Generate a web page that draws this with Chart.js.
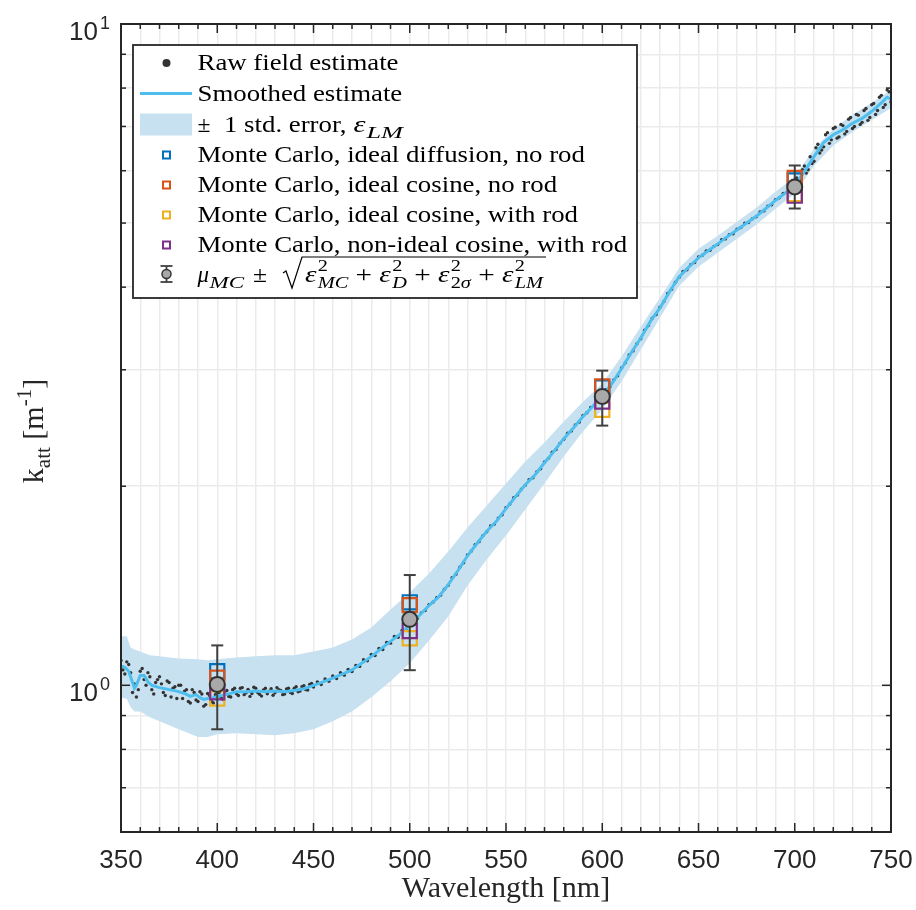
<!DOCTYPE html>
<html><head><meta charset="utf-8">
<script src="https://cdn.jsdelivr.net/npm/chart.js@4.4.0/dist/chart.umd.min.js"></script>
<style>html,body{margin:0;padding:0;background:#fff;}canvas{display:block;}</style>
</head><body>
<canvas id="c" width="916" height="910"></canvas>
<script>
// ---------------- data ----------------
const curveWl = [350,352,354,356,357,358,360,362,364,366,370,375,379,383,386,389,391,393,395,398,400,405,410,415,420,425,430,435,440,445,450,455,460,465,470,475,480,485,490,495,500,505,510,515,520,525,530,535,540,545,550,555,560,565,570,575,580,585,590,595,600,605,610,615,620,625,630,635,640,645,650,655,660,665,670,675,680,685,690,695,700,705,710,715,720,725,730,735,740,745,748,750];
const curveK = [1.07,1.065,1.05,1.01,0.99,1.0,1.035,1.035,1.012,1.0,0.992,0.985,0.98,0.972,0.962,0.968,0.958,0.952,0.955,0.958,0.962,0.969,0.978,0.978,0.98,0.978,0.98,0.978,0.982,0.988,1.0,1.012,1.025,1.04,1.055,1.08,1.105,1.135,1.165,1.195,1.235,1.275,1.32,1.36,1.42,1.49,1.57,1.64,1.71,1.77,1.85,1.93,2.01,2.08,2.17,2.26,2.36,2.45,2.55,2.64,2.74,2.86,3.01,3.18,3.35,3.55,3.72,3.94,4.15,4.29,4.43,4.54,4.65,4.77,4.88,5.0,5.12,5.26,5.41,5.55,5.70,5.98,6.30,6.62,6.80,6.92,7.08,7.20,7.38,7.60,7.75,7.70];

const bandWl = [350,353,355,357,360,365,370,380,390,395,400,410,420,430,440,450,460,470,480,490,500,510,520,530,540,550,560,570,580,590,600,610,620,630,640,650,660,670,680,690,700,710,720,730,740,750];
const bandHigh = [1.186,1.186,1.141,1.133,1.125,1.110,1.106,1.098,1.095,1.091,1.095,1.102,1.106,1.110,1.110,1.125,1.141,1.173,1.223,1.302,1.382,1.476,1.594,1.733,1.870,2.019,2.180,2.328,2.505,2.685,2.859,3.141,3.486,3.856,4.280,4.573,4.783,5.023,5.273,5.576,5.873,6.475,6.940,7.288,7.599,7.949];
const bandLow = [0.959,0.953,0.926,0.913,0.913,0.895,0.882,0.858,0.835,0.835,0.843,0.846,0.843,0.840,0.846,0.858,0.882,0.913,0.959,1.014,1.080,1.169,1.271,1.416,1.550,1.685,1.845,2.019,2.218,2.419,2.612,2.879,3.218,3.596,4.020,4.295,4.510,4.734,4.971,5.254,5.537,6.103,6.543,6.868,7.161,7.466];

// raw field estimate, even wavelengths 350..750
const rawStart = 350, rawStep = 2;
const rawK = [1.09,1.04,1.075,0.975,0.96,1.05,1.02,1.045,0.985,1.01,1.03,0.975,1.015,0.96,0.995,1.0,0.955,0.985,0.94,0.975,0.945,0.97,0.935,0.965,0.94,0.975,
0.958,0.979,0.962,0.985,0.971,0.99,0.968,0.986,0.972,0.99,0.969,0.984,0.971,0.988,0.974,0.985,0.968,0.987,0.975,0.99,0.978,0.995,0.985,1.003,0.994,
1.012,1.003,1.022,1.014,1.033,1.024,1.045,1.036,1.057,1.049,1.072,1.068,1.093,1.089,1.113,1.109,1.137,1.133,1.161,1.158,1.185,1.182,1.21,1.212,1.242,
1.256,1.263,1.287,1.297,1.324,1.335,1.357,1.368,1.397,1.417,1.454,1.472,1.509,1.532,1.575,1.596,1.632,1.649,1.684,1.707,1.741,1.753,1.790,1.811,1.856,1.880,1.922,1.940,1.980,2.006,2.046,2.060,2.102,2.125,2.177,2.204,2.251,2.273,2.322,2.355,2.406,2.425,2.475,2.500,2.558,2.583,2.632,2.652,2.703,2.735,
2.799,2.827,2.896,2.938,3.019,3.075,3.159,3.204,3.285,3.343,3.444,3.499,3.591,3.637,3.731,3.804,3.912,3.970,4.070,4.142,4.223,4.249,4.327,4.357,4.443,4.470,4.536,4.548,4.611,4.641,4.717,4.732,4.802,4.817,4.895,4.923,4.996,5.009,5.077,5.110,5.197,5.216,5.301,5.329,5.426,5.461,5.544,5.563,5.646,5.689,
5.74,6.02,5.95,6.30,6.20,6.58,6.45,6.80,6.60,6.95,6.72,7.05,6.82,7.18,6.95,7.30,7.05,7.40,7.15,7.55,7.30,7.75,7.48,7.95,7.62];
// raw field estimate, odd wavelengths 351..449
const rawBlueStart = 351;
const rawBlueK = [1.055,1.085,1.045,1.005,0.985,1.06,1.0,1.03,0.97,1.02,1.005,0.965,1.01,0.99,0.955,1.0,0.98,0.945,0.985,0.95,0.978,0.93,0.972,0.945,0.968,
0.975,0.952,0.982,0.96,0.99,0.965,0.992,0.974,0.962,0.993,0.975,0.963,0.99,0.98,0.966,0.992,0.982,0.97,0.99,0.972,0.995,0.98,0.999,0.984,1.006];
// raw field estimate, odd wavelengths 701..749
const rawRedStart = 701;
const rawRedK = [5.85,5.80,6.10,6.02,6.15,6.50,6.38,6.52,6.85,6.68,6.98,6.75,7.02,6.88,7.22,7.00,7.28,7.10,7.45,7.22,7.58,7.40,7.80,7.55,7.90];

const mcWl = [400,500,600,700];
const mcDiffNoRod = [1.05,1.335,2.82,5.80];
const mcCosNoRod = [1.027,1.322,2.83,5.85];
const mcCosRod = [0.955,1.178,2.61,5.53];
const mcNonIdealRod = [0.976,1.208,2.686,5.50];
const mcMean = [1.003,1.258,2.734,5.67];
const errLow = [0.858,1.054,2.47,5.26];
const errHigh = [1.149,1.468,2.991,6.11];

const xGridValues = [350,360,370,380,390,400,410,420,430,440,450,460,470,480,490,500,510,520,530,540,550,560,570,580,590,600,610,620,630,640,650,660,670,680,690,700,710,720,730,740,750];
const xTickLabels = [350,400,450,500,550,600,650,700,750];
const yTickValues = [0.6,0.7,0.8,0.9,1,2,3,4,5,6,7,8,9,10];
const yTickLabels = [{v:1,exp:'0'},{v:10,exp:'1'}];
const legendTexts = ['Raw field estimate','Smoothed estimate','','Monte Carlo, ideal diffusion, no rod','Monte Carlo, ideal cosine, no rod','Monte Carlo, ideal cosine, with rod','Monte Carlo, non-ideal cosine, with rod',''];

// ---------------- styles ----------------
const BAND = '#c8e1f1', LINE = '#4DBEEE', DOT = '#333333', AX = '#262626';
const C_BLUE = '#0072BD', C_ORANGE = '#D95319', C_YELLOW = '#EDB120', C_PURPLE = '#7E2F8E';
const GRID = '#ebebeb';

const pts = (xs, ys) => xs.map((x,i)=>({x:x, y:ys[i]}));
const stepPts = (start, step, ys) => ys.map((k,i)=>({x:start+i*step, y:k}));
const errData = [];
mcWl.forEach((w,i)=>{ errData.push({x:w,y:errLow[i]},{x:w,y:errHigh[i]},{x:w+1,y:null}); });

const sq = (data,color,order)=>({type:'line', showLine:false, data:pts(mcWl,data), pointStyle:'rect', pointRadius:10, pointBorderColor:color, pointBackgroundColor:'rgba(0,0,0,0)', pointBorderWidth:2.2, order:order});
const rawSet = (data)=>({data:data, showLine:false, pointRadius:1.7, pointBackgroundColor:DOT, pointBorderWidth:0, order:7});

const SERIF = '"Liberation Serif", "Times New Roman", serif';
const SANS = '"Liberation Sans", Arial, Helvetica, sans-serif';

const deco = {
  id:'deco',
  afterDraw(chart){
    const ctx = chart.ctx, xa = chart.scales.x, ya = chart.scales.y, ca = chart.chartArea;
    ctx.save();
    ctx.strokeStyle = AX; ctx.lineCap='butt';
    const line=(a,b,c,d)=>{ctx.beginPath();ctx.moveTo(a,b);ctx.lineTo(c,d);ctx.stroke();};
    ctx.lineWidth = 1.5;
    xGridValues.forEach(v=>{ const px=xa.getPixelForValue(v); const L=(v%50===0)?9:5; line(px,ca.bottom,px,ca.bottom-L); line(px,ca.top,px,ca.top+L); });
    yTickValues.forEach(v=>{ const py=ya.getPixelForValue(v); const L=(v===1||v===10)?9:5; line(ca.left,py,ca.left+L,py); line(ca.right,py,ca.right-L,py); });
    ctx.lineWidth = 2;
    ctx.strokeRect(ca.left, ca.top, ca.right-ca.left, ca.bottom-ca.top);

    // tick labels
    ctx.fillStyle = AX;
    ctx.font = '26px '+SANS; ctx.textAlign='center'; ctx.textBaseline='alphabetic';
    xTickLabels.forEach(v=>{ ctx.fillText(String(v), xa.getPixelForValue(v), ca.bottom+36); });
    yTickLabels.forEach(t=>{
      const py = ya.getPixelForValue(t.v);
      ctx.font='26px '+SANS; ctx.textAlign='right'; ctx.fillText('10', ca.left-23, py+16);
      ctx.font='18px '+SANS; ctx.textAlign='left'; ctx.fillText(t.exp, ca.left-21, py+5);
    });

    // axis titles
    ctx.fillStyle = AX;
    ctx.font = '30px '+SERIF; ctx.textAlign='center';
    ctx.fillText('Wavelength [nm]', (ca.left+ca.right)/2, ca.bottom+65);
    ctx.save();
    ctx.translate(43, 431); ctx.rotate(-Math.PI/2);
    ctx.textAlign='left';
    const yl = [{t:'k',f:'30px '+SERIF,dy:0},{t:'att',f:'21px '+SERIF,dy:7},{t:' [m',f:'30px '+SERIF,dy:0},{t:'-1',f:'21px '+SERIF,dy:-12},{t:']',f:'30px '+SERIF,dy:0}];
    let tw=0; yl.forEach(s=>{ctx.font=s.f; tw+=ctx.measureText(s.t).width;});
    let cx=-tw/2; yl.forEach(s=>{ctx.font=s.f; ctx.fillText(s.t,cx,s.dy); cx+=ctx.measureText(s.t).width;});
    ctx.restore();

    // legend
    const L0={x0:133,y0:45,x1:637,y1:298};
    ctx.fillStyle='#fff'; ctx.fillRect(L0.x0,L0.y0,L0.x1-L0.x0,L0.y1-L0.y0);
    ctx.strokeStyle=AX; ctx.lineWidth=1.8; ctx.strokeRect(L0.x0,L0.y0,L0.x1-L0.x0,L0.y1-L0.y0);
    const rowY=[63,93.5,124.5,155,185,215,245,275];
    const ix=166.5, tx=197.5;
    ctx.fillStyle=DOT; ctx.beginPath(); ctx.arc(ix,rowY[0],4,0,Math.PI*2); ctx.fill();
    ctx.strokeStyle=LINE; ctx.lineWidth=3; line(140,rowY[1],192,rowY[1]);
    ctx.fillStyle=BAND; ctx.fillRect(140,rowY[2]-11,52,22);
    [C_BLUE,C_ORANGE,C_YELLOW,C_PURPLE].forEach((c,i)=>{ ctx.strokeStyle=c; ctx.lineWidth=2; ctx.strokeRect(ix-3.5,rowY[3+i]-3.5,7,7); });
    ctx.strokeStyle='#404040'; ctx.lineWidth=1.8;
    line(ix,rowY[7]-9,ix,rowY[7]+7); line(ix-6,rowY[7]-9,ix+6,rowY[7]-9); line(ix-6,rowY[7]+7,ix+6,rowY[7]+7);
    ctx.fillStyle='#a8a8a8'; ctx.beginPath(); ctx.arc(ix,rowY[7]-1,4.5,0,Math.PI*2); ctx.fill(); ctx.lineWidth=1.5; ctx.strokeStyle='#333'; ctx.stroke();

    const R='23px '+SERIF, I='italic 23px '+SERIF, Rs='16px '+SERIF, Is='italic 16px '+SERIF;
    ctx.font=R; const sx = 201/ctx.measureText('Raw field estimate').width;
    ctx.fillStyle='#000'; ctx.textAlign='left';
    const mw=(t,f)=>{ctx.font=f; return ctx.measureText(t).width;};
    const put=(t,f,x,y,s)=>{ s=s||sx; ctx.font=f; const w=ctx.measureText(t).width*s; ctx.save(); ctx.translate(x,y); ctx.scale(s,1); ctx.fillText(t,0,0); ctx.restore(); return x+w; };
    const fit=(t,f,x0,x1,y)=>put(t,f,x0,y,(x1-x0)/mw(t,f));
    legendTexts.forEach((t,i)=>{ if(t) put(t,R,tx,rowY[i]+7); });
    // row 3: ± 1 std. error, ε_LM
    let b=rowY[2]+7;
    fit('\u00B1',R,tx,tx+13,b);
    let xe=put('1 std. error,',R,224,b);
    fit('\u03B5',I,xe+7,xe+19,b);
    fit('LM',Is,xe+20,403,b+6);
    // row 8
    b=rowY[7]+7;
    fit('\u03BC',I,197.5,209,b);
    fit('MC',Is,209.5,244,b+6);
    fit('\u00B1',R,253,267,b);
    const r0=283;
    const ops=[]; let cur=0;
    const add=(t,f,dy)=>{ ops.push({t,f,dy,x:cur}); cur+=mw(t,f); };
    const term=(sub)=>{ add('\u03B5',I,0); const s0=cur+1; ops.push({t:'2',f:Rs,dy:-11,x:s0}); let e=s0; sub.forEach(p=>{ ops.push({t:p[0],f:p[1],dy:6,x:e}); e+=mw(p[0],p[1]); }); cur=Math.max(s0+mw('2',Rs), e); };
    term([['MC',Is]]); add(' + ',R,0);
    term([['D',Is]]); add(' + ',R,0);
    term([['2',Rs],['\u03C3',Is]]); add(' + ',R,0);
    term([['LM',Is]]);
    const fx0=305, fx1=543, m=(fx1-fx0)/cur;
    ops.forEach(o=>{ ctx.font=o.f; ctx.save(); ctx.translate(fx0+o.x*m, b+o.dy); ctx.scale(m,1); ctx.fillText(o.t,0,0); ctx.restore(); });
    ctx.strokeStyle='#000'; ctx.lineWidth=1.2; ctx.lineJoin='miter';
    ctx.beginPath(); ctx.moveTo(r0,b-9); ctx.lineTo(r0+3,b-11); ctx.lineTo(r0+9,b+6); ctx.lineTo(r0+19,b-25); ctx.lineTo(546,b-25); ctx.stroke();
    ctx.restore();
  }
};

new Chart(document.getElementById('c'), {
  type:'line',
  data:{ datasets:[
    {label:'bandHigh', data:pts(bandWl,bandHigh), borderWidth:0, borderColor:'rgba(0,0,0,0)', pointRadius:0, fill:'+1', backgroundColor:BAND, order:9},
    {label:'bandLow', data:pts(bandWl,bandLow), borderWidth:0, borderColor:'rgba(0,0,0,0)', pointRadius:0, fill:false, order:8},
    rawSet(stepPts(rawStart,rawStep,rawK)),
    rawSet(stepPts(rawBlueStart,2,rawBlueK)),
    rawSet(stepPts(rawRedStart,2,rawRedK)),
    {label:'smooth', data:pts(curveWl,curveK), borderColor:LINE, borderWidth:3, pointRadius:0, fill:false, order:6},
    sq(mcDiffNoRod,C_BLUE,5), sq(mcCosNoRod,C_ORANGE,4), sq(mcCosRod,C_YELLOW,3), sq(mcNonIdealRod,C_PURPLE,2),
    {label:'err', data:errData, borderColor:'#404040', borderWidth:2, pointStyle:'line', pointRadius:6, pointBorderColor:'#404040', pointBorderWidth:2, spanGaps:false, order:1},
    {label:'mean', data:pts(mcWl,mcMean), showLine:false, pointRadius:7.5, pointBackgroundColor:'#a9a9a9', pointBorderColor:'#333', pointBorderWidth:2, order:0}
  ]},
  options:{
    responsive:false, animation:false, devicePixelRatio:1, events:[],
    layout:{padding:{left:121,right:25,top:24,bottom:78}},
    plugins:{legend:{display:false}, tooltip:{enabled:false}, filler:{drawTime:'beforeDatasetsDraw'}},
    elements:{line:{tension:0}},
    scales:{
      x:{type:'linear', min:350, max:750, ticks:{display:false}, grid:{color:GRID, lineWidth:1.5, drawTicks:false}, border:{display:false},
         afterBuildTicks:s=>{ s.ticks = xGridValues.map(v=>({value:v})); }},
      y:{type:'logarithmic', min:0.6, max:10, ticks:{display:false}, grid:{color:GRID, lineWidth:1.5, drawTicks:false}, border:{display:false},
         afterBuildTicks:s=>{ s.ticks = yTickValues.map(v=>({value:v})); }}
    }
  },
  plugins:[deco]
});
</script>
</body></html>
